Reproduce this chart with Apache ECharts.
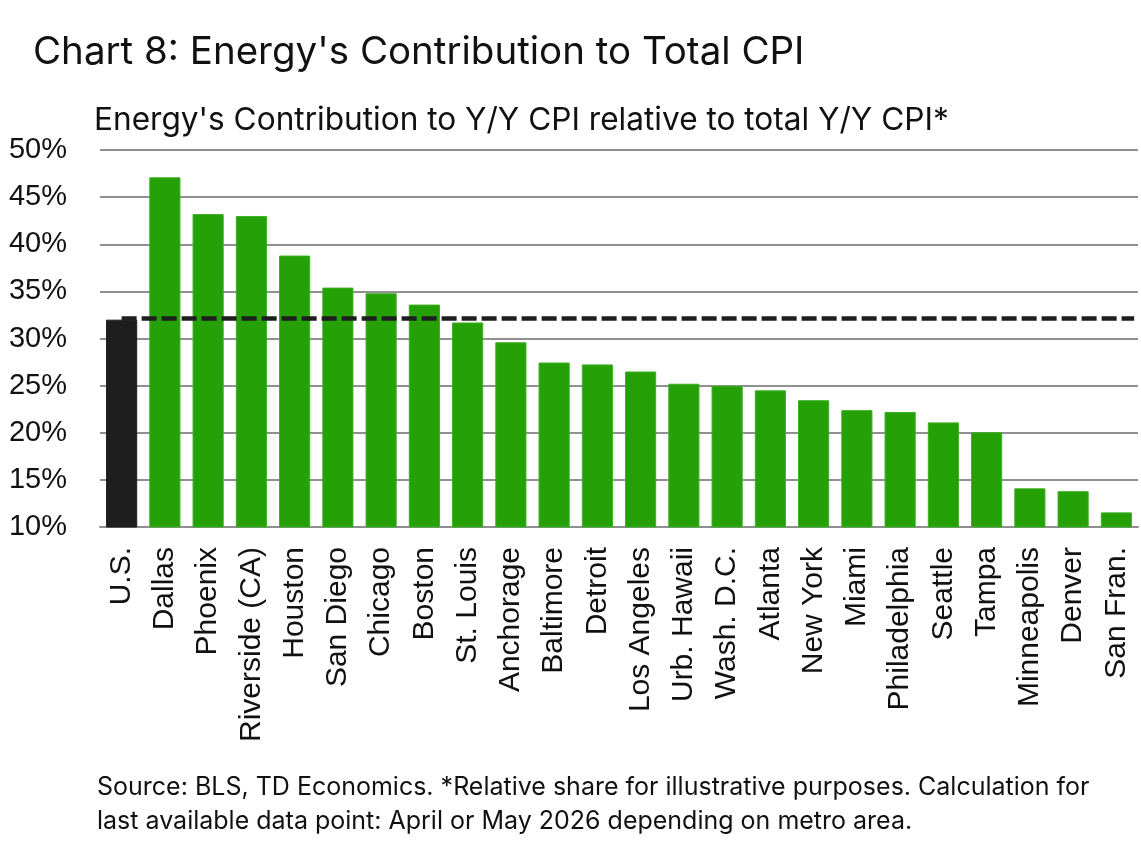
<!DOCTYPE html>
<html>
<head>
<meta charset="utf-8">
<script src="https://cdn.jsdelivr.net/npm/echarts@6/dist/echarts.min.js"></script>
<style>
  html, body { margin: 0; padding: 0; background: #ffffff; }
  #chart { width: 1141px; height: 848px; }
</style>
</head>
<body>
<div id="chart"></div>
<script>
// ---- data ----
const categories = ['U.S.', 'Dallas', 'Phoenix', 'Riverside (CA)', 'Houston', 'San Diego', 'Chicago', 'Boston', 'St. Louis', 'Anchorage', 'Baltimore', 'Detroit', 'Los Angeles', 'Urb. Hawaii', 'Wash. D.C.', 'Atlanta', 'New York', 'Miami', 'Philadelphia', 'Seattle', 'Tampa', 'Minneapolis', 'Denver', 'San Fran.'];
const energyShare = [32.0, 47.1, 43.2, 43.0, 38.8, 35.4, 34.8, 33.6, 31.7, 29.6, 27.45, 27.25, 26.5, 25.2, 25.0, 24.5, 23.45, 22.4, 22.2, 21.1, 20.05, 14.1, 13.8, 11.55];
const usReference = 32.2;
const yTicks = [10, 15, 20, 25, 30, 35, 40, 45, 50];

const titleText = "Chart 8: Energy's Contribution to Total CPI";
const subtitleText = "Energy's Contribution to Y/Y CPI relative to total Y/Y CPI*";
const sourceText = "Source: BLS, TD Economics. *Relative share for illustrative purposes. Calculation for\nlast available data point: April or May 2026 depending on metro area.";

// ---- chart ----
const FONT = '"Liberation Sans", Arial, sans-serif';
const TFONT = 'Inter, "Liberation Sans", sans-serif';
const GREEN = '#25a006';
const DARK = '#1e1e1e';

const chart = echarts.init(document.getElementById('chart'), null, { renderer: 'canvas' });

chart.setOption({
  animation: false,
  backgroundColor: '#ffffff',
  title: [
    { text: titleText, left: 28, top: 28, textStyle: { fontFamily: TFONT, fontSize: 38.5, fontWeight: 'normal', color: '#111' } },
    { text: subtitleText, left: 89, top: 99, textStyle: { fontFamily: TFONT, fontSize: 31.6, fontWeight: 'normal', color: '#111' } },
    { text: sourceText, left: 92, top: 765, textStyle: { fontFamily: TFONT, fontSize: 25, fontWeight: 'normal', color: '#111', lineHeight: 34 } }
  ],
  grid: { left: 100, right: 3, top: 150, bottom: 321, containLabel: false },
  xAxis: {
    type: 'category',
    data: categories,
    axisTick: { show: false },
    axisLine: { show: true, lineStyle: { color: '#8e8e8e', width: 2 } },
    axisLabel: {
      rotate: 90,
      interval: 0,
      margin: 20,
      fontFamily: FONT,
      fontSize: 30,
      color: '#111'
    }
  },
  yAxis: {
    type: 'value',
    min: yTicks[0],
    max: yTicks[yTicks.length - 1],
    interval: 5,
    axisLine: { show: false },
    axisTick: { show: false },
    splitLine: { show: true, lineStyle: { color: '#909090', width: 2 } },
    axisLabel: {
      margin: 33,
      fontFamily: FONT,
      fontSize: 29,
      color: '#111',
      formatter: v => v + '%'
    }
  },
  series: [{
    type: 'bar',
    data: energyShare.map((v, i) => ({
      value: v,
      itemStyle: { color: i === 0 ? DARK : GREEN, borderColor: i === 0 ? DARK : '#3cb024', borderWidth: 1 }
    })),
    barCategoryGap: '28%',
    markLine: {
      symbol: ['none', 'none'],
      silent: true,
      label: { show: false },
      lineStyle: { color: DARK, width: 4.5, type: [15, 5] },
      data: [[
        { coord: [categories[0], usReference] },
        { coord: [categories[categories.length - 1], usReference], x: '99.4%' }
      ]]
    }
  }]
});
</script>
</body>
</html>
